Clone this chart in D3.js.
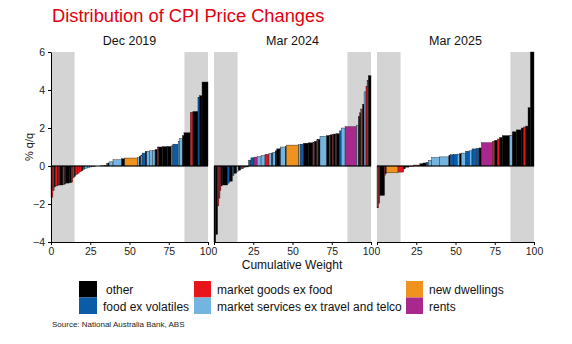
<!DOCTYPE html>
<html>
<head>
<meta charset="utf-8">
<script src="https://cdn.jsdelivr.net/npm/d3@7"></script>
<style>
  body { margin: 0; background: #fff; }
  svg { font-family: 'Liberation Sans', Arial, sans-serif; }
</style>
</head>
<body>
<div id="chart"></div>
<script>
// categories (code -> name)
var catCodes = ['O', 'F', 'G', 'S', 'N', 'R']
var catNames = [
  'other',
  'food ex volatiles',
  'market goods ex food',
  'market services ex travel and telco',
  'new dwellings',
  'rents',
]
var catColors = ['#000000', '#0b5ca8', '#e8141c', '#74b4e0', '#f0921e', '#a8288e']

var panelTitles = ['Dec 2019', 'Mar 2024', 'Mar 2025']
var xTicks = [0, 25, 50, 75, 100]
var yTicks = [-4, -2, 0, 2, 4, 6]
var bands = [[0, 15], [85, 100]]

// Dec 2019: weight, q/q change, category
var dec19Weight = [1.2, 0.8, 0.8, 1.2, 0.6, 1.0, 2.0, 1.0, 0.6, 2.4, 1.4, 0.8, 1.0, 0.8, 1.4, 1.0, 1.5, 0.8, 1.2, 1.5, 1.5, 1.5,
  2.5, 3.0, 2.5, 1.5, 0.8, 0.7, 2.5, 5.5, 2.0, 8.0, 1.2, 1.0, 0.8, 2.0, 1.0, 1.8, 1.7, 1.8, 1.5, 0.8, 2.5, 3.0, 2.5,
  1.0, 3.4, 1.0, 1.7, 1.0, 4.0, 1.7, 3.2, 1.0, 1.6, 3.8]
var dec19Value = [-1.65, -1.3, -1.1, -1.05, -1.02, -1.0, -1.0, -0.98, -0.95, -0.9, -0.88, -0.85, -0.62, -0.55, -0.45, -0.38, -0.3, -0.25, -0.18, -0.12, -0.1, -0.05,
  -0.02, 0, 0.01, 0.02, 0.12, 0.16, 0.22, 0.33, 0.38, 0.42, 0.44, 0.5, 0.55, 0.68, 0.75, 0.78, 0.8, 0.82, 0.87, 1.0, 1.0, 1.02, 1.03,
  1.06, 1.15, 1.3, 1.45, 1.6, 1.75, 2.82, 2.87, 3.6, 3.7, 4.42]
var dec19Cat = ['G', 'G', 'O', 'G', 'O', 'G', 'O', 'G', 'O', 'O', 'O', 'G', 'G', 'O', 'G', 'G', 'G', 'O', 'F', 'S', 'S', 'S',
  'O', 'S', 'O', 'O', 'G', 'O', 'S', 'S', 'O', 'N', 'S', 'O', 'S', 'F', 'O', 'S', 'S', 'S', 'O', 'G', 'O', 'O', 'O',
  'S', 'F', 'S', 'S', 'O', 'O', 'G', 'O', 'F', 'O', 'O']

// Mar 2024
var mar24Weight = [1.1, 1.2, 0.8, 0.7, 0.6, 0.8, 3.5, 1.0, 2.0, 1.0, 1.8, 1.0, 1.5, 1.0, 1.0, 1.0, 2.0,
  1.5, 2.0, 2.0, 2.5, 2.5, 2.5, 1.5, 1.0, 1.5, 1.0, 2.0, 0.5, 3.0, 0.5, 8.0, 1.0, 2.0, 3.0, 3.0, 1.0, 1.5, 0.8, 1.2,
  4.3, 1.5, 0.7, 1.5, 0.5, 1.5, 0.5, 2.0, 1.0, 2.5, 7.3, 1.2, 0.8, 0.7, 1.1, 1.0, 1.2, 0.7, 0.8, 1.7]
var mar24Value = [-4.0, -3.6, -2.1, -1.7, -1.3, -1.05, -1.0, -0.9, -0.8, -0.5, -0.38, -0.3, -0.22, -0.15, -0.12, -0.08, -0.05,
  0.3, 0.43, 0.47, 0.5, 0.55, 0.62, 0.66, 0.68, 0.72, 0.8, 0.9, 0.95, 1.0, 1.02, 1.1, 1.12, 1.15, 1.2, 1.22, 1.25, 1.3, 1.38, 1.4,
  1.56, 1.6, 1.62, 1.64, 1.66, 1.68, 1.69, 1.7, 1.85, 2.0, 2.07, 2.12, 2.6, 2.8, 3.0, 3.25, 3.9, 4.2, 4.5, 4.75]
var mar24Cat = ['O', 'O', 'G', 'R', 'G', 'O', 'O', 'F', 'O', 'F', 'O', 'S', 'O', 'F', 'G', 'S', 'O',
  'F', 'F', 'R', 'S', 'S', 'G', 'S', 'F', 'S', 'O', 'O', 'F', 'S', 'O', 'N', 'S', 'F', 'O', 'O', 'G', 'O', 'G', 'O',
  'S', 'O', 'G', 'O', 'G', 'O', 'G', 'O', 'F', 'S', 'R', 'S', 'O', 'O', 'G', 'O', 'S', 'G', 'G', 'O']

// Mar 2025
var mar25Weight = [1.0, 0.8, 3.0, 0.5, 0.7, 7.4, 3.6, 1.0, 2.3, 3.0, 4.0, 2.0, 2.0, 1.5, 2.0, 5.0, 6.0, 0.8, 2.3, 2.3,
  1.5, 1.0, 2.8, 2.5, 1.5, 2.8, 1.7, 1.5, 7.0, 1.5, 1.7, 1.4, 1.7, 4.7, 1.7, 2.5, 3.2, 1.5, 1.3, 1.5, 1.5, 2.3]
var mar25Value = [-2.2, -1.95, -1.55, -0.5, -0.4, -0.36, -0.32, -0.15, -0.06, -0.02, 0.05, 0.12, 0.16, 0.2, 0.3, 0.45, 0.48, 0.55, 0.59, 0.61,
  0.62, 0.65, 0.68, 0.78, 0.8, 0.9, 0.93, 0.95, 1.23, 1.3, 1.35, 1.42, 1.5, 1.6, 1.62, 1.8, 1.9, 2.0, 2.05, 2.1, 3.07, 6.0]
var mar25Cat = ['G', 'G', 'O', 'G', 'O', 'N', 'G', 'O', 'O', 'O', 'G', 'O', 'O', 'F', 'S', 'S', 'S', 'O', 'F', 'F',
  'S', 'O', 'S', 'F', 'S', 'F', 'F', 'O', 'R', 'G', 'O', 'G', 'O', 'O', 'S', 'O', 'O', 'O', 'G', 'O', 'O', 'O']

var panelWeights = [dec19Weight, mar24Weight, mar25Weight]
var panelValues = [dec19Value, mar24Value, mar25Value]
var panelCats = [dec19Cat, mar24Cat, mar25Cat]

var width = 572
var height = 344
var panelLeft = [51, 214, 377]
var panelW = 157
var plotTop = 52
var plotBottom = 242

var colour = d3.scaleOrdinal().domain(catCodes).range(catColors)

var svg = d3
  .select('#chart')
  .append('svg')
  .attr('width', width)
  .attr('height', height)

var y = d3.scaleLinear().domain([-4, 6]).range([plotBottom, plotTop])

// title
svg
  .append('text')
  .attr('x', 52)
  .attr('y', 22)
  .attr('fill', '#e3000f')
  .attr('font-size', 18.3)
  .text('Distribution of CPI Price Changes')

panelTitles.forEach(function (title, p) {
  var x = d3
    .scaleLinear()
    .domain([0, 100])
    .range([panelLeft[p], panelLeft[p] + panelW])

  // build cumulative positions
  var cum = 0
  var bars = panelWeights[p].map(function (w, i) {
    var d = { x0: cum, x1: cum + w, v: panelValues[p][i], c: panelCats[p][i] }
    cum += w
    return d
  })

  var g = svg.append('g')

  g.selectAll('rect.band')
    .data(bands)
    .join('rect')
    .attr('class', 'band')
    .attr('x', (d) => x(d[0]))
    .attr('width', (d) => x(d[1]) - x(d[0]))
    .attr('y', y(6))
    .attr('height', y(-4) - y(6))
    .attr('fill', '#d4d4d4')

  g.selectAll('rect.bar')
    .data(bars)
    .join('rect')
    .attr('class', 'bar')
    .attr('x', (d) => x(d.x0))
    .attr('width', (d) => x(d.x1) - x(d.x0))
    .attr('y', (d) => y(Math.max(d.v, 0)))
    .attr('height', (d) => Math.abs(y(d.v) - y(0)))
    .attr('fill', (d) => colour(d.c))
    .attr('stroke', '#1a1a1a')
    .attr('stroke-width', 0.4)

  // zero line
  g.append('line')
    .attr('x1', x(0))
    .attr('x2', x(100))
    .attr('y1', y(0))
    .attr('y2', y(0))
    .attr('stroke', '#000')
    .attr('stroke-width', 1.2)

  // the "0" of panels 2 and 3 sits under the previous panel's "100"
  var xAxis = g
    .append('g')
    .attr('transform', 'translate(0,' + plotBottom + ')')
    .call(
      d3
        .axisBottom(x)
        .tickValues(xTicks)
        .tickSize(3)
        .tickSizeOuter(0)
        .tickFormat((d) => (p > 0 && d === 0 ? '' : d))
    )
  xAxis.selectAll('text').attr('font-size', 10.5).attr('dy', '0.7em').attr('fill', '#222')

  if (p === 0) {
    var yAxis = g
      .append('g')
      .attr('transform', 'translate(' + panelLeft[0] + ',0)')
      .call(d3.axisLeft(y).tickValues(yTicks).tickSize(3).tickSizeOuter(0))
    yAxis.selectAll('text').attr('font-size', 10.5).attr('fill', '#222')
  }

  g.append('text')
    .attr('x', panelLeft[p] + panelW / 2)
    .attr('y', 45)
    .attr('text-anchor', 'middle')
    .attr('font-size', 12.5)
    .attr('fill', '#111')
    .text(title)
})

svg
  .append('text')
  .attr('transform', 'translate(33,147) rotate(-90)')
  .attr('text-anchor', 'middle')
  .attr('font-size', 11)
  .attr('fill', '#111')
  .text('% q/q')

svg
  .append('text')
  .attr('x', 292)
  .attr('y', 269)
  .attr('text-anchor', 'middle')
  .attr('font-size', 12)
  .attr('fill', '#111')
  .text('Cumulative Weight')

// legend: 3 columns x 2 rows
var legendCols = [
  { sx: 79, sw: 18, tx: [106, 103] },
  { sx: 194, sw: 17, tx: [217, 217] },
  { sx: 406, sw: 17, tx: [429, 429] },
]
var legend = svg.append('g')
catNames.forEach(function (name, i) {
  var col = legendCols[Math.floor(i / 2)]
  var row = i % 2
  legend
    .append('rect')
    .attr('x', col.sx)
    .attr('y', 281 + row * 16.5)
    .attr('width', col.sw)
    .attr('height', 16.5)
    .attr('fill', catColors[i])
  legend
    .append('text')
    .attr('x', col.tx[row])
    .attr('y', 294 + row * 17)
    .attr('font-size', 12)
    .attr('fill', '#111')
    .text(name)
})

svg
  .append('text')
  .attr('x', 52)
  .attr('y', 327)
  .attr('font-size', 8)
  .attr('fill', '#222')
  .text('Source: National Australia Bank, ABS')
</script>
</body>
</html>
